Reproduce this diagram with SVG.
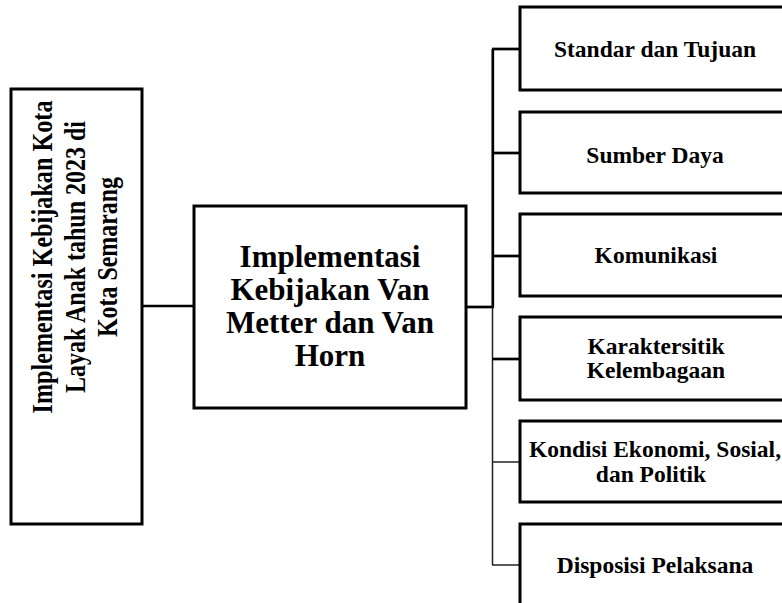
<svg xmlns="http://www.w3.org/2000/svg" width="782" height="603" viewBox="0 0 782 603">
<style>
.box{fill:#fff;stroke:#000;stroke-width:3}
.t{font-family:"Liberation Serif","Times New Roman",serif;font-weight:bold;fill:#000;text-anchor:middle}
.big{font-size:31px}
.left{font-size:30px}
.r{font-size:23.5px}
.c{fill:none;stroke:#000;stroke-width:2.7}
.thin{fill:none;stroke:#222;stroke-width:1.5}
</style>
<rect width="782" height="603" fill="#fff"/>
<g id="connectors">
<line class="c" x1="142" y1="306" x2="194" y2="306"/>
<line class="c" x1="466" y1="307" x2="494" y2="307"/>
<line class="c" x1="492.8" y1="49" x2="492.8" y2="308"/>
<line class="thin" x1="492.5" y1="307" x2="492.5" y2="565"/>
<line class="c" x1="492" y1="49" x2="520" y2="49"/>
<line class="c" x1="492" y1="153" x2="520" y2="153"/>
<line class="c" x1="492" y1="256" x2="520" y2="256"/>
<line class="c" x1="492" y1="359" x2="520" y2="359"/>
<line class="thin" x1="492" y1="462" x2="520" y2="462"/>
<line class="thin" x1="492" y1="565" x2="520" y2="565"/>
</g>
<g id="node-kla">
<rect class="box" x="11" y="89" width="131" height="435"/>
<g transform="translate(0,257) rotate(-90)">
<text class="t left" x="0" y="52" textLength="313" lengthAdjust="spacingAndGlyphs">Implementasi  Kebijakan Kota</text>
<text class="t left" x="0" y="85" textLength="272" lengthAdjust="spacingAndGlyphs">Layak Anak tahun 2023 di</text>
<text class="t left" x="0" y="117" textLength="160" lengthAdjust="spacingAndGlyphs">Kota Semarang</text>
</g>
</g>
<g id="node-vmvh">
<rect class="box" x="194" y="206" width="272" height="202"/>
<text class="t big" x="330" y="267">Implementasi</text>
<text class="t big" x="330" y="300">Kebijakan Van</text>
<text class="t big" x="330" y="333">Metter dan Van</text>
<text class="t big" x="330" y="366">Horn</text>
</g>
<g id="node-standar">
<rect class="box" x="520" y="7" width="271" height="83"/>
<text class="t r" x="655" y="57">Standar dan Tujuan</text>
</g>
<g id="node-sumber">
<rect class="box" x="520" y="112" width="271" height="81"/>
<text class="t r" x="655" y="163">Sumber Daya</text>
</g>
<g id="node-komunikasi">
<rect class="box" x="520" y="214" width="271" height="82"/>
<text class="t r" x="656" y="263">Komunikasi</text>
</g>
<g id="node-karakteristik">
<rect class="box" x="520" y="317" width="271" height="83"/>
<text class="t r" x="656" y="353.5">Karaktersitik</text>
<text class="t r" x="656" y="377.5">Kelembagaan</text>
</g>
<g id="node-kondisi">
<rect class="box" x="520" y="421" width="271" height="81"/>
<text class="t r" x="655" y="457">Kondisi Ekonomi, Sosial,</text>
<text class="t r" x="651" y="482">dan Politik</text>
</g>
<g id="node-disposisi">
<rect class="box" x="520" y="524" width="271" height="90"/>
<text class="t r" x="655" y="573">Disposisi Pelaksana</text>
</g>
</svg>
